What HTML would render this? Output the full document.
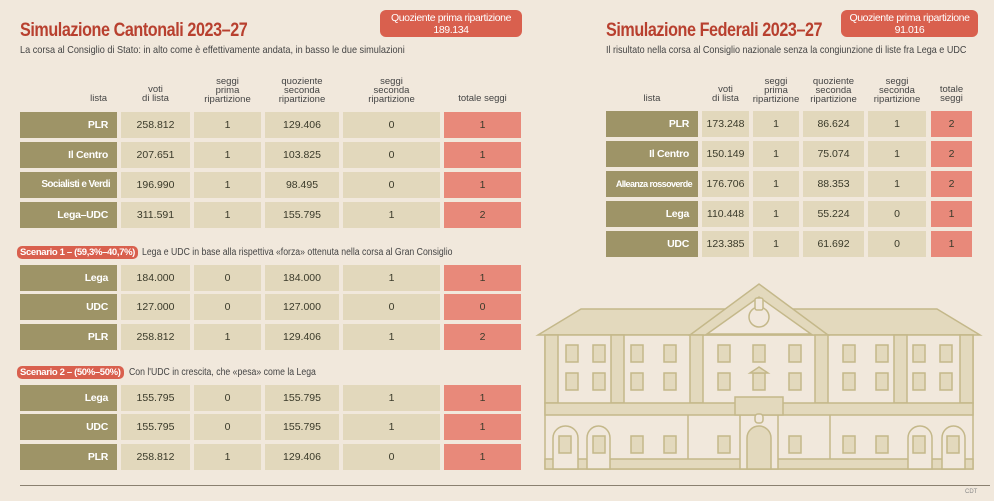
<!DOCTYPE html><html><head><meta charset="utf-8"><style>
body{margin:0;width:994px;height:501px;background:#f1e8dc;position:relative;overflow:hidden;font-family:"Liberation Sans",sans-serif;}
.a{position:absolute;white-space:nowrap}
.t{color:#b8402f;font-weight:bold;font-size:19px;letter-spacing:-0.5px;transform:scaleX(0.85);transform-origin:0 0}
.s{font-size:10.5px;color:#444;transform:scaleX(0.87);transform-origin:0 0}
.c{position:absolute;height:26px;line-height:26px;text-align:center;font-size:10.5px;color:#3a3a2a;background:#e2d8bc;white-space:nowrap;overflow:hidden}
.l{background:#9e9467;color:#fff;text-align:right;box-sizing:border-box;padding-right:9px;font-weight:bold;letter-spacing:-0.3px}
.p{background:#e8897a}
.h{position:absolute;font-size:9.5px;color:#444;text-align:center;line-height:9px}
.b{position:absolute;background:#d9604e;color:#fff;font-size:10.5px;text-align:center;line-height:12px;border-radius:6px;white-space:nowrap;letter-spacing:-0.4px}
.sc{position:absolute;background:#d9604e;color:#fff;font-size:9.5px;font-weight:bold;padding:1px 3px;border-radius:5px;white-space:nowrap;letter-spacing:-0.35px}
</style></head><body>
<div class="a t" style="left:20px;top:20px">Simulazione Cantonali 2023–27</div>
<div class="a s" style="left:20px;top:44px">La corsa al Consiglio di Stato: in alto come è effettivamente andata, in basso le due simulazioni</div>
<div class="b" style="left:380px;top:10px;width:142px;height:25px;padding-top:2px">Quoziente prima ripartizione<br>189.134</div>
<div class="a t" style="left:606px;top:20px">Simulazione Federali 2023–27</div>
<div class="a s" style="left:606px;top:44px;transform:scaleX(0.86)">Il risultato nella corsa al Consiglio nazionale senza la congiunzione di liste fra Lega e UDC</div>
<div class="b" style="left:841px;top:10px;width:137px;height:25px;padding-top:2px">Quoziente prima ripartizione<br>91.016</div>

<div class="h" style="left:20px;width:97px;top:94px;text-align:right;padding-right:10px;box-sizing:border-box">lista</div>
<div class="h" style="left:121px;width:69px;top:85px">voti<br>di lista</div>
<div class="h" style="left:194px;width:67px;top:77px">seggi<br>prima<br>ripartizione</div>
<div class="h" style="left:265px;width:74px;top:77px">quoziente<br>seconda<br>ripartizione</div>
<div class="h" style="left:343px;width:97px;top:77px">seggi<br>seconda<br>ripartizione</div>
<div class="h" style="left:444px;width:77px;top:94px">totale seggi</div>

<div class="c l" style="left:20px;width:97px;top:112px">PLR</div><div class="c" style="left:121px;width:69px;top:112px">258.812</div><div class="c" style="left:194px;width:67px;top:112px">1</div><div class="c" style="left:265px;width:74px;top:112px">129.406</div><div class="c" style="left:343px;width:97px;top:112px">0</div><div class="c p" style="left:444px;width:77px;top:112px">1</div>
<div class="c l" style="left:20px;width:97px;top:142px">Il Centro</div><div class="c" style="left:121px;width:69px;top:142px">207.651</div><div class="c" style="left:194px;width:67px;top:142px">1</div><div class="c" style="left:265px;width:74px;top:142px">103.825</div><div class="c" style="left:343px;width:97px;top:142px">0</div><div class="c p" style="left:444px;width:77px;top:142px">1</div>
<div class="c l" style="left:20px;width:97px;top:172px;font-size:10px;letter-spacing:-0.6px;padding-right:7px">Socialisti e Verdi</div><div class="c" style="left:121px;width:69px;top:172px">196.990</div><div class="c" style="left:194px;width:67px;top:172px">1</div><div class="c" style="left:265px;width:74px;top:172px">98.495</div><div class="c" style="left:343px;width:97px;top:172px">0</div><div class="c p" style="left:444px;width:77px;top:172px">1</div>
<div class="c l" style="left:20px;width:97px;top:202px">Lega–UDC</div><div class="c" style="left:121px;width:69px;top:202px">311.591</div><div class="c" style="left:194px;width:67px;top:202px">1</div><div class="c" style="left:265px;width:74px;top:202px">155.795</div><div class="c" style="left:343px;width:97px;top:202px">1</div><div class="c p" style="left:444px;width:77px;top:202px">2</div>

<div class="sc" style="left:17px;top:246px">Scenario 1 – (59,3%–40,7%)</div>
<div class="a s" style="left:142px;top:247px;font-size:10px">Lega e UDC in base alla rispettiva «forza» ottenuta nella corsa al Gran Consiglio</div>
<div class="c l" style="left:20px;width:97px;top:265px">Lega</div><div class="c" style="left:121px;width:69px;top:265px">184.000</div><div class="c" style="left:194px;width:67px;top:265px">0</div><div class="c" style="left:265px;width:74px;top:265px">184.000</div><div class="c" style="left:343px;width:97px;top:265px">1</div><div class="c p" style="left:444px;width:77px;top:265px">1</div>
<div class="c l" style="left:20px;width:97px;top:294px">UDC</div><div class="c" style="left:121px;width:69px;top:294px">127.000</div><div class="c" style="left:194px;width:67px;top:294px">0</div><div class="c" style="left:265px;width:74px;top:294px">127.000</div><div class="c" style="left:343px;width:97px;top:294px">0</div><div class="c p" style="left:444px;width:77px;top:294px">0</div>
<div class="c l" style="left:20px;width:97px;top:324px">PLR</div><div class="c" style="left:121px;width:69px;top:324px">258.812</div><div class="c" style="left:194px;width:67px;top:324px">1</div><div class="c" style="left:265px;width:74px;top:324px">129.406</div><div class="c" style="left:343px;width:97px;top:324px">1</div><div class="c p" style="left:444px;width:77px;top:324px">2</div>

<div class="sc" style="left:17px;top:366px">Scenario 2 – (50%–50%)</div>
<div class="a s" style="left:129px;top:367px;font-size:10px">Con l'UDC in crescita, che «pesa» come la Lega</div>
<div class="c l" style="left:20px;width:97px;top:385px">Lega</div><div class="c" style="left:121px;width:69px;top:385px">155.795</div><div class="c" style="left:194px;width:67px;top:385px">0</div><div class="c" style="left:265px;width:74px;top:385px">155.795</div><div class="c" style="left:343px;width:97px;top:385px">1</div><div class="c p" style="left:444px;width:77px;top:385px">1</div>
<div class="c l" style="left:20px;width:97px;top:414px">UDC</div><div class="c" style="left:121px;width:69px;top:414px">155.795</div><div class="c" style="left:194px;width:67px;top:414px">0</div><div class="c" style="left:265px;width:74px;top:414px">155.795</div><div class="c" style="left:343px;width:97px;top:414px">1</div><div class="c p" style="left:444px;width:77px;top:414px">1</div>
<div class="c l" style="left:20px;width:97px;top:444px">PLR</div><div class="c" style="left:121px;width:69px;top:444px">258.812</div><div class="c" style="left:194px;width:67px;top:444px">1</div><div class="c" style="left:265px;width:74px;top:444px">129.406</div><div class="c" style="left:343px;width:97px;top:444px">0</div><div class="c p" style="left:444px;width:77px;top:444px">1</div>

<div class="h" style="left:606px;width:92px;top:94px">lista</div>
<div class="h" style="left:702px;width:47px;top:85px">voti<br>di lista</div>
<div class="h" style="left:749px;width:54px;top:77px">seggi<br>prima<br>ripartizione</div>
<div class="h" style="left:800px;width:67px;top:77px">quoziente<br>seconda<br>ripartizione</div>
<div class="h" style="left:865px;width:64px;top:77px">seggi<br>seconda<br>ripartizione</div>
<div class="h" style="left:931px;width:41px;top:85px">totale<br>seggi</div>

<div class="c l" style="left:606px;width:92px;top:111px">PLR</div><div class="c" style="left:702px;width:47px;top:111px">173.248</div><div class="c" style="left:753px;width:46px;top:111px">1</div><div class="c" style="left:803px;width:61px;top:111px">86.624</div><div class="c" style="left:868px;width:58px;top:111px">1</div><div class="c p" style="left:931px;width:41px;top:111px">2</div>
<div class="c l" style="left:606px;width:92px;top:141px">Il Centro</div><div class="c" style="left:702px;width:47px;top:141px">150.149</div><div class="c" style="left:753px;width:46px;top:141px">1</div><div class="c" style="left:803px;width:61px;top:141px">75.074</div><div class="c" style="left:868px;width:58px;top:141px">1</div><div class="c p" style="left:931px;width:41px;top:141px">2</div>
<div class="c l" style="left:606px;width:92px;top:171px;font-size:9px;letter-spacing:-0.6px;padding-right:6px">Alleanza rossoverde</div><div class="c" style="left:702px;width:47px;top:171px">176.706</div><div class="c" style="left:753px;width:46px;top:171px">1</div><div class="c" style="left:803px;width:61px;top:171px">88.353</div><div class="c" style="left:868px;width:58px;top:171px">1</div><div class="c p" style="left:931px;width:41px;top:171px">2</div>
<div class="c l" style="left:606px;width:92px;top:201px">Lega</div><div class="c" style="left:702px;width:47px;top:201px">110.448</div><div class="c" style="left:753px;width:46px;top:201px">1</div><div class="c" style="left:803px;width:61px;top:201px">55.224</div><div class="c" style="left:868px;width:58px;top:201px">0</div><div class="c p" style="left:931px;width:41px;top:201px">1</div>
<div class="c l" style="left:606px;width:92px;top:231px">UDC</div><div class="c" style="left:702px;width:47px;top:231px">123.385</div><div class="c" style="left:753px;width:46px;top:231px">1</div><div class="c" style="left:803px;width:61px;top:231px">61.692</div><div class="c" style="left:868px;width:58px;top:231px">0</div><div class="c p" style="left:931px;width:41px;top:231px">1</div>

<svg class="a" style="left:0;top:0" width="994" height="501">
<g stroke="#c4b88a" stroke-width="1.5" fill="#e3d9bd">
<polygon points="538,335 581,309 937,309 980,335"/>
<rect x="545" y="335" width="428" height="134" fill="#f1e8dc"/>
<polygon points="690,335 759,284 828,335"/>
<polygon points="707,334 759,297 811,334" fill="#f1e8dc"/>
<circle cx="759" cy="317" r="10" fill="#f1e8dc"/>
<rect x="755" y="298" width="8" height="12" rx="2" fill="#f1e8dc"/>
<rect x="545" y="335" width="13" height="68"/><rect x="611" y="335" width="13" height="68"/>
<rect x="690" y="335" width="13" height="68"/><rect x="815" y="335" width="13" height="68"/>
<rect x="894" y="335" width="13" height="68"/><rect x="960" y="335" width="13" height="68"/>
<rect x="545" y="403" width="428" height="12"/>
<rect x="545" y="459" width="428" height="10"/>
<line x1="688" y1="415" x2="688" y2="459"/><line x1="830" y1="415" x2="830" y2="459"/>
<rect x="740" y="415" width="38" height="54" fill="#f1e8dc"/>
<rect x="735" y="397" width="48" height="18"/>
<rect x="755" y="414" width="8" height="9" rx="3" fill="#f1e8dc"/>
<path d="M747,469 V438 A12,12 0 0 1 771,438 V469 Z"/>
<path d="M553,469 V438 A12.5,12 0 0 1 578,438 V469 Z" fill="#f1e8dc"/>
<path d="M587,469 V438 A11.5,12 0 0 1 610,438 V469 Z" fill="#f1e8dc"/>
<path d="M908,469 V438 A12,12 0 0 1 932,438 V469 Z" fill="#f1e8dc"/>
<path d="M942,469 V438 A11.5,12 0 0 1 965,438 V469 Z" fill="#f1e8dc"/>
<g>
<rect x="566" y="345" width="12" height="17"/><rect x="593" y="345" width="12" height="17"/><rect x="631" y="345" width="12" height="17"/><rect x="664" y="345" width="12" height="17"/><rect x="718" y="345" width="12" height="17"/><rect x="753" y="345" width="12" height="17"/><rect x="789" y="345" width="12" height="17"/><rect x="843" y="345" width="12" height="17"/><rect x="876" y="345" width="12" height="17"/><rect x="913" y="345" width="12" height="17"/><rect x="940" y="345" width="12" height="17"/>
<rect x="566" y="373" width="12" height="17"/><rect x="593" y="373" width="12" height="17"/><rect x="631" y="373" width="12" height="17"/><rect x="664" y="373" width="12" height="17"/><rect x="718" y="373" width="12" height="17"/><rect x="753" y="373" width="12" height="17"/><rect x="789" y="373" width="12" height="17"/><rect x="843" y="373" width="12" height="17"/><rect x="876" y="373" width="12" height="17"/><rect x="913" y="373" width="12" height="17"/><rect x="940" y="373" width="12" height="17"/>
<polygon points="750,373 759,367 768,373" />
<rect x="559" y="436" width="12" height="17"/><rect x="593" y="436" width="12" height="17"/><rect x="631" y="436" width="12" height="17"/><rect x="664" y="436" width="12" height="17"/><rect x="718" y="436" width="12" height="17"/><rect x="789" y="436" width="12" height="17"/><rect x="843" y="436" width="12" height="17"/><rect x="876" y="436" width="12" height="17"/><rect x="913" y="436" width="12" height="17"/><rect x="947" y="436" width="12" height="17"/>
</g></g>
<line x1="20" y1="485.5" x2="990" y2="485.5" stroke="#8a8070" stroke-width="1"/>
<text x="965" y="493" font-size="6" fill="#888" font-family="Liberation Sans">CDT</text>
</svg>
</body></html>
